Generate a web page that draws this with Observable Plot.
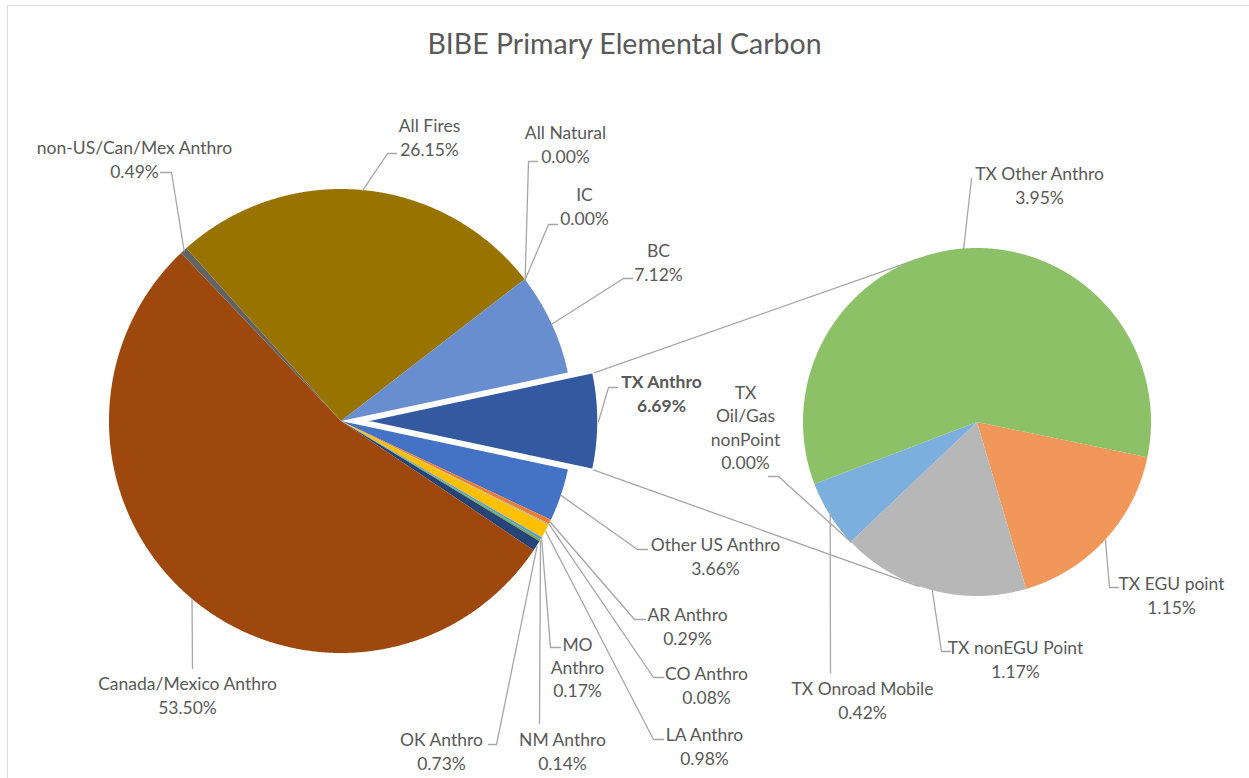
<!DOCTYPE html>
<html>
<head>
<meta charset="utf-8">
<script src="https://cdn.jsdelivr.net/npm/d3@7"></script>
<script src="https://cdn.jsdelivr.net/npm/@observablehq/plot@0.6"></script>
<style>
  html, body { margin: 0; padding: 0; background: #fff; }
  #wrap { position: relative; width: 1249px; height: 778px; overflow: hidden; background: #fff; }
  #frame { position: absolute; left: 7px; top: 5px; width: 1260px; height: 800px; border: 1.5px solid #D9D9D9; box-sizing: border-box; }
  #title { position: absolute; left: 0; top: 27px; width: 1249px; height: 32px; line-height: 32px; text-align: center;
           font-family: Lato, "Liberation Sans", sans-serif; font-size: 28.5px; color: #595959; }
  #chart { position: absolute; left: 0; top: 70px; }
</style>
</head>
<body>
<div id="wrap">
  <div id="frame"></div>
  <div id="title">BIBE Primary Elemental Carbon</div>
  <div id="chart"></div>
</div>
<script>
// ---------------- DATA ----------------
const mainNames = ["Other US Anthro", "AR Anthro", "CO Anthro", "LA Anthro", "MO Anthro", "NM Anthro", "OK Anthro",
                   "Canada/Mexico Anthro", "non-US/Can/Mex Anthro", "All Fires", "All Natural", "IC", "BC"];
const mainValues = [3.66, 0.29, 0.08, 0.98, 0.17, 0.14, 0.73, 53.50, 0.49, 26.15, 0.00, 0.00, 7.12];
const mainColors = ["#4472C4", "#ED7D31", "#A5A5A5", "#FFC000", "#5B9BD5", "#70AD47", "#264478",
                    "#9E480E", "#636363", "#997300", "#255E91", "#43682B", "#698ED0"];

const txGroupName = "TX Anthro";
const txGroupColor = "#335AA1";
const txNames = ["TX EGU point", "TX nonEGU Point", "TX Oil/Gas nonPoint", "TX Onroad Mobile", "TX Other Anthro"];
const txValues = [1.15, 1.17, 0.00, 0.42, 3.95];
const txColors = ["#F1975A", "#B7B7B7", "#FFCD33", "#7CAFDD", "#8CC168"];

// ---------------- LAYOUT (page pixel coordinates) ----------------
const W = 1249, H = 778, TOP = 70;
const mainPie = {cx: 341, cy: 421, r: 232, explode: 25};
const subPie = {cx: 977, cy: 422, r: 174, startDeg: 101.7};
// label block centre (x,y), leader anchor (ax,ay) and elbow (ex,ey); wrap: break name at spaces
const labelLayout = [
  {name: "non-US/Can/Mex Anthro", x: 134, y: 158, ax: 160, ay: 172, ex: 171, ey: 172},
  {name: "All Fires", x: 429, y: 136, ax: 396, ay: 153, ex: 387, ey: 153},
  {name: "All Natural", x: 565, y: 143, ax: 537, ay: 161, ex: 528, ey: 161},
  {name: "IC", x: 584, y: 205, ax: 557, ay: 224, ex: 548, ey: 224},
  {name: "BC", x: 658, y: 261, ax: 632, ay: 278, ex: 623, ey: 278},
  {name: "TX Anthro", x: 661, y: 392, ax: 617, ay: 387, ex: 608, ey: 387, bold: true},
  {name: "Other US Anthro", x: 715, y: 555, ax: 647, ay: 549, ex: 637, ey: 549},
  {name: "AR Anthro", x: 687, y: 625, ax: 645, ay: 619, ex: 634, ey: 619},
  {name: "CO Anthro", x: 706, y: 684, ax: 663, ay: 677, ex: 653, ey: 677},
  {name: "LA Anthro", x: 704, y: 745, ax: 663, ay: 739, ex: 653, ey: 739},
  {name: "MO Anthro", x: 577, y: 666, ax: 560, ay: 647, ex: 550, ey: 647, wrap: true},
  {name: "NM Anthro", x: 562, y: 750, ax: 539, ay: 723, ex: 539, ey: 723},
  {name: "OK Anthro", x: 441, y: 750, ax: 488, ay: 744, ex: 496, ey: 744},
  {name: "Canada/Mexico Anthro", x: 187, y: 694, ax: 192, ay: 668, ex: 192, ey: 668},
  {name: "TX Other Anthro", x: 1039, y: 184, ax: 971, ay: 178, ex: 971, ey: 178},
  {name: "TX Oil/Gas nonPoint", x: 745, y: 426, ax: 768, ay: 476, ex: 778, ey: 476, wrap: true},
  {name: "TX Onroad Mobile", x: 862, y: 699, ax: 830, ay: 672, ex: 830, ey: 672},
  {name: "TX nonEGU Point", x: 1015, y: 658, ax: 950, ay: 651, ex: 941, ey: 651},
  {name: "TX EGU point", x: 1171, y: 594, ax: 1118, ay: 587, ex: 1109, ey: 587}
];

// ---------------- GEOMETRY ----------------
const rad = d => d * Math.PI / 180;
const polar = (cx, cy, r, deg) => [cx + r * Math.sin(rad(deg)), cy - r * Math.cos(rad(deg))];

const slices = [];   // {name, color, value, cx, cy, r, a0, a1}
const txTotal = d3.sum(txValues);
const grandTotal = txTotal + d3.sum(mainValues);
const degPer = 360 / grandTotal;
{
  const a0 = 90 - txTotal * degPer / 2, a1 = 90 + txTotal * degPer / 2;
  const [ox, oy] = polar(0, 0, mainPie.explode, 90);
  slices.push({name: txGroupName, value: txTotal, color: txGroupColor,
               cx: mainPie.cx + ox, cy: mainPie.cy + oy, r: mainPie.r, a0, a1, exploded: true});
  let a = a1;
  mainNames.forEach((n, i) => {
    const span = mainValues[i] * degPer;
    slices.push({name: n, value: mainValues[i], color: mainColors[i], cx: mainPie.cx, cy: mainPie.cy, r: mainPie.r, a0: a, a1: a + span});
    a += span;
  });
  let b = subPie.startDeg;
  txNames.forEach((n, i) => {
    const span = txValues[i] / txTotal * 360;
    slices.push({name: n, value: txValues[i], color: txColors[i], cx: subPie.cx, cy: subPie.cy, r: subPie.r, a0: b, a1: b + span});
    b += span;
  });
}

// wedge outlines for the area mark (baseline = centre, topline = arc)
const wedgeRows = [];
for (const s of slices) {
  if (s.value <= 0) continue;
  const n = Math.max(2, Math.ceil((s.a1 - s.a0) / 0.25));
  for (let k = 0; k <= n; k++) {
    const deg = s.a0 + (s.a1 - s.a0) * k / n;
    const [px, py] = polar(s.cx, s.cy, s.r, deg);
    wedgeRows.push({name: s.name, color: s.color, x1: s.cx, y1: s.cy, x2: px, y2: py});
  }
}

// leader lines
const leaderRows = [];
for (const L of labelLayout) {
  const s = slices.find(d => d.name === L.name);
  const mid = (s.a0 + s.a1) / 2;
  const [px, py] = polar(s.cx, s.cy, s.r, mid);
  leaderRows.push({name: L.name, x: px, y: py});
  leaderRows.push({name: L.name, x: L.ex, y: L.ey});
  leaderRows.push({name: L.name, x: L.ax, y: L.ay});
}

// series lines: tangents from exploded slice corners to the secondary pie
const txSlice = slices[0];
const connRows = [];
[[txSlice.a0, -1], [txSlice.a1, 1]].forEach(([deg, sgn], i) => {
  const [px, py] = polar(txSlice.cx, txSlice.cy, txSlice.r, deg);
  const dx = subPie.cx - px, dy = subPie.cy - py;
  const d = Math.hypot(dx, dy);
  const phi = Math.atan2(dy, dx) + sgn * Math.asin(subPie.r / d);
  const len = Math.sqrt(d * d - subPie.r * subPie.r);
  connRows.push({k: i, x: px, y: py});
  connRows.push({k: i, x: px + len * Math.cos(phi), y: py + len * Math.sin(phi)});
});

// label text
const valueOf = name => slices.find(d => d.name === name).value;
const labelRows = labelLayout.map(L => ({
  x: L.x, y: L.y, bold: !!L.bold,
  text: (L.wrap ? L.name.split(" ").join("\n") : L.name) + "\n" + valueOf(L.name).toFixed(2) + "%"
}));

const font = "Lato, 'Liberation Sans', sans-serif";
const chart = Plot.plot({
  width: W, height: H - TOP, margin: 0,
  x: {type: "linear", domain: [0, W], range: [0, W], axis: null},
  y: {type: "linear", domain: [TOP, H], range: [0, H - TOP], axis: null},
  color: {type: "identity"},
  marks: [
    Plot.line(connRows, {x: "x", y: "y", z: "k", stroke: "#A6A6A6", strokeWidth: 1.3}),
    Plot.area(wedgeRows, {x1: "x1", y1: "y1", x2: "x2", y2: "y2", z: "name", fill: "color",
                          stroke: d => d.name === txGroupName ? "#fff" : "none", strokeWidth: 1.5, curve: "linear"}),
    Plot.line(leaderRows, {x: "x", y: "y", z: "name", stroke: "#A6A6A6", strokeWidth: 1.3}),
    Plot.text(labelRows.filter(d => !d.bold), {x: "x", y: "y", text: "text", fill: "#595959", fontSize: 17.5,
                                              fontFamily: font, lineHeight: 1.33}),
    Plot.text(labelRows.filter(d => d.bold), {x: "x", y: "y", text: "text", fill: "#595959", fontSize: 17.5,
                                             fontFamily: font, fontWeight: "bold", lineHeight: 1.33})
  ]
});
document.getElementById("chart").appendChild(chart);
</script>
</body>
</html>
